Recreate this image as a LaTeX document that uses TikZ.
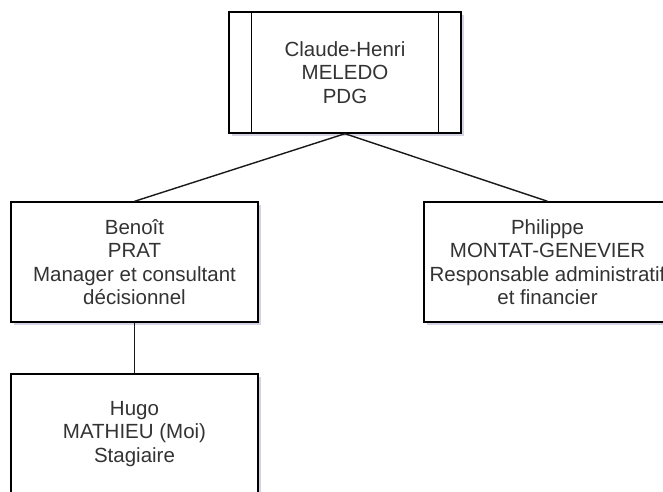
\documentclass[tikz,border=0pt]{standalone}
\usepackage{fontspec}
\setmainfont{Liberation Sans}
\usetikzlibrary{shadows}
\begin{document}
\begin{tikzpicture}[x=1pt,y=-1pt,
		poste/.style={draw=black,line width=1.4pt,fill=white,align=center,text=black!80,
			font=\fontsize{20.5}{23.5}\selectfont,inner sep=0pt,
			minimum width=247pt,minimum height=120pt,
			drop shadow={shadow xshift=3pt,shadow yshift=-3pt,opacity=0.35,fill=black!60!blue!50}},
		lien/.style={line width=1.4pt,draw=black!90}]
	\useasboundingbox (0,0) rectangle (663,491);
	\clip (0,0) rectangle (663,491);
	% direction
	\node[poste,minimum width=232pt,minimum height=121pt] (pdg) at (345,72.5) {Claude-Henri\\MELEDO\\PDG};
	\draw[line width=1.4pt] ([xshift=23pt]pdg.north west) to ([xshift=23pt]pdg.south west);
	\draw[line width=1.4pt] ([xshift=-23pt]pdg.north east) to ([xshift=-23pt]pdg.south east);
	% managers
	\node[poste] (prat) at (134.5,262) {Beno\^{\i}t\\PRAT\\Manager et consultant\\d\'ecisionnel};
	\node[poste] (montat) at (547.5,262) {Philippe\\MONTAT-GENEVIER\\Responsable administratif\\et financier};
	% stagiaire
	\node[poste] (mathieu) at (134.5,434) {Hugo\\MATHIEU (Moi)\\Stagiaire};
	% liens
	\draw[lien] (pdg.south) to (prat.north);
	\draw[lien] (pdg.south) to (montat.north);
	\draw[lien] (prat.south) to (mathieu.north);
\end{tikzpicture}
\end{document}
